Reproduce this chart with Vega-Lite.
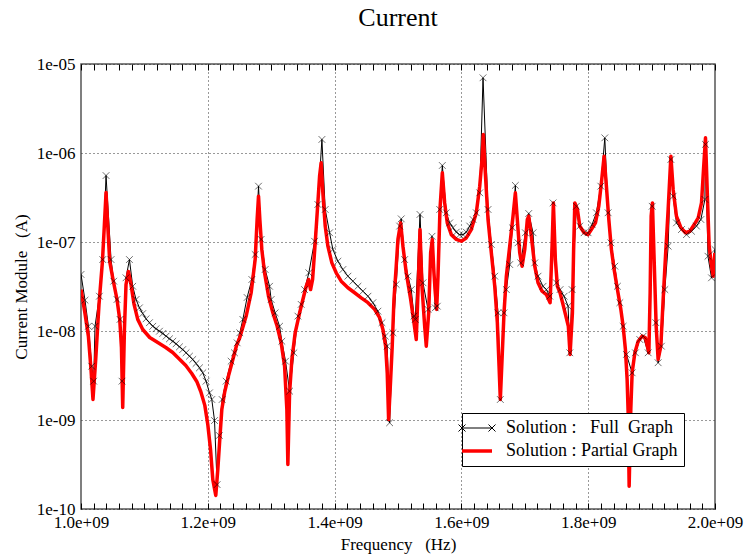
{
"$schema": "https://vega.github.io/schema/vega-lite/v6.json",
"width": 634, "height": 445,
"autosize": {"type": "none"},
"padding": {"left": 81, "top": 64, "right": 32, "bottom": 46},
"background": "white",
"title": {"text": "Current", "font": "Liberation Serif", "fontSize": 26, "fontWeight": "normal", "color": "black", "anchor": "middle", "frame": "group", "offset": 24},
"config": {"view": {"stroke": "#555", "strokeWidth": 1.5}, "font": "Liberation Serif"},
"datasets": {
"full": [
{"f":1.0000e9,"v":4.32e-8,"s":"Full"},{"f":1.0063e9,"v":2.22e-8,"s":"Full"},{"f":1.0117e9,"v":1.13e-8,"s":"Full"},{"f":1.0169e9,"v":4.02e-9,"s":"Full"},{"f":1.0200e9,"v":2.73e-9,"s":"Full"},{"f":1.0221e9,"v":1.13e-8,"s":"Full"},{"f":1.0290e9,"v":2.46e-8,"s":"Full"},{"f":1.0343e9,"v":6.35e-8,"s":"Full"},{"f":1.0395e9,"v":5.58e-7,"s":"Full"},{"f":1.0474e9,"v":6.35e-8,"s":"Full"},{"f":1.0516e9,"v":3.63e-8,"s":"Full"},{"f":1.0568e9,"v":2.26e-8,"s":"Full"},{"f":1.0616e9,"v":1.35e-8,"s":"Full"},{"f":1.0647e9,"v":2.73e-9,"s":"Full"},{"f":1.0710e9,"v":3.96e-8,"s":"Full"},{"f":1.0764e9,"v":6.35e-8,"s":"Full"},{"f":1.0816e9,"v":3.18e-8,"s":"Full"},{"f":1.0868e9,"v":2.26e-8,"s":"Full"},{"f":1.0922e9,"v":1.82e-8,"s":"Full"},{"f":1.0974e9,"v":1.57e-8,"s":"Full"},{"f":1.1026e9,"v":1.37e-8,"s":"Full"},{"f":1.1080e9,"v":1.24e-8,"s":"Full"},{"f":1.1132e9,"v":1.13e-8,"s":"Full"},{"f":1.1184e9,"v":1.06e-8,"s":"Full"},{"f":1.1238e9,"v":9.95e-9,"s":"Full"},{"f":1.1290e9,"v":9.38e-9,"s":"Full"},{"f":1.1342e9,"v":8.75e-9,"s":"Full"},{"f":1.1395e9,"v":8.17e-9,"s":"Full"},{"f":1.1448e9,"v":7.67e-9,"s":"Full"},{"f":1.1500e9,"v":7.18e-9,"s":"Full"},{"f":1.1553e9,"v":6.64e-9,"s":"Full"},{"f":1.1605e9,"v":6.19e-9,"s":"Full"},{"f":1.1657e9,"v":5.69e-9,"s":"Full"},{"f":1.1711e9,"v":5.21e-9,"s":"Full"},{"f":1.1763e9,"v":4.79e-9,"s":"Full"},{"f":1.1815e9,"v":4.32e-9,"s":"Full"},{"f":1.1869e9,"v":3.86e-9,"s":"Full"},{"f":1.1921e9,"v":3.39e-9,"s":"Full"},{"f":1.1973e9,"v":2.73e-9,"s":"Full"},{"f":1.2027e9,"v":2.02e-9,"s":"Full"},{"f":1.2063e9,"v":1.70e-9,"s":"Full"},{"f":1.2106e9,"v":9.86e-10,"s":"Full"},{"f":1.2147e9,"v":1.88e-10,"s":"Full"},{"f":1.2182e9,"v":6.70e-10,"s":"Full"},{"f":1.2226e9,"v":1.70e-9,"s":"Full"},{"f":1.2289e9,"v":2.73e-9,"s":"Full"},{"f":1.2368e9,"v":4.58e-9,"s":"Full"},{"f":1.2421e9,"v":5.69e-9,"s":"Full"},{"f":1.2463e9,"v":7.36e-9,"s":"Full"},{"f":1.2505e9,"v":9.55e-9,"s":"Full"},{"f":1.2553e9,"v":1.35e-8,"s":"Full"},{"f":1.2620e9,"v":2.38e-8,"s":"Full"},{"f":1.2695e9,"v":3.79e-8,"s":"Full"},{"f":1.2747e9,"v":7.24e-8,"s":"Full"},{"f":1.2800e9,"v":4.24e-7,"s":"Full"},{"f":1.2841e9,"v":1.07e-7,"s":"Full"},{"f":1.2905e9,"v":4.91e-8,"s":"Full"},{"f":1.2974e9,"v":3.18e-8,"s":"Full"},{"f":1.2999e9,"v":2.26e-8,"s":"Full"},{"f":1.3062e9,"v":1.60e-8,"s":"Full"},{"f":1.3132e9,"v":1.13e-8,"s":"Full"},{"f":1.3168e9,"v":7.67e-9,"s":"Full"},{"f":1.3226e9,"v":4.58e-9,"s":"Full"},{"f":1.3290e9,"v":2.11e-9,"s":"Full"},{"f":1.3358e9,"v":5.69e-9,"s":"Full"},{"f":1.3421e9,"v":1.47e-8,"s":"Full"},{"f":1.3473e9,"v":1.99e-8,"s":"Full"},{"f":1.3526e9,"v":2.92e-8,"s":"Full"},{"f":1.3594e9,"v":4.51e-8,"s":"Full"},{"f":1.3684e9,"v":1.02e-7,"s":"Full"},{"f":1.3736e9,"v":2.64e-7,"s":"Full"},{"f":1.3800e9,"v":1.42e-6,"s":"Full"},{"f":1.3852e9,"v":2.32e-7,"s":"Full"},{"f":1.3921e9,"v":1.27e-7,"s":"Full"},{"f":1.3973e9,"v":8.24e-8,"s":"Full"},{"f":1.4052e9,"v":6.08e-8,"s":"Full"},{"f":1.4131e9,"v":4.91e-8,"s":"Full"},{"f":1.4210e9,"v":4.13e-8,"s":"Full"},{"f":1.4289e9,"v":3.63e-8,"s":"Full"},{"f":1.4368e9,"v":3.18e-8,"s":"Full"},{"f":1.4447e9,"v":2.80e-8,"s":"Full"},{"f":1.4526e9,"v":2.46e-8,"s":"Full"},{"f":1.4604e9,"v":2.08e-8,"s":"Full"},{"f":1.4683e9,"v":1.67e-8,"s":"Full"},{"f":1.4747e9,"v":1.24e-8,"s":"Full"},{"f":1.4799e9,"v":8.75e-9,"s":"Full"},{"f":1.4830e9,"v":6.75e-9,"s":"Full"},{"f":1.4868e9,"v":9.31e-10,"s":"Full"},{"f":1.4920e9,"v":9.55e-9,"s":"Full"},{"f":1.4972e9,"v":3.33e-8,"s":"Full"},{"f":1.5026e9,"v":1.51e-7,"s":"Full"},{"f":1.5051e9,"v":1.82e-7,"s":"Full"},{"f":1.5105e9,"v":6.35e-8,"s":"Full"},{"f":1.5157e9,"v":4.13e-8,"s":"Full"},{"f":1.5209e9,"v":2.92e-8,"s":"Full"},{"f":1.5252e9,"v":1.47e-8,"s":"Full"},{"f":1.5272e9,"v":1.35e-8,"s":"Full"},{"f":1.5347e9,"v":2.04e-7,"s":"Full"},{"f":1.5394e9,"v":3.48e-8,"s":"Full"},{"f":1.5473e9,"v":1.75e-8,"s":"Full"},{"f":1.5536e9,"v":1.16e-7,"s":"Full"},{"f":1.5588e9,"v":1.82e-8,"s":"Full"},{"f":1.5620e9,"v":1.90e-8,"s":"Full"},{"f":1.5658e9,"v":2.32e-7,"s":"Full"},{"f":1.5699e9,"v":7.24e-7,"s":"Full"},{"f":1.5762e9,"v":2.13e-7,"s":"Full"},{"f":1.5815e9,"v":1.64e-7,"s":"Full"},{"f":1.5867e9,"v":1.45e-7,"s":"Full"},{"f":1.5919e9,"v":1.29e-7,"s":"Full"},{"f":1.5973e9,"v":1.21e-7,"s":"Full"},{"f":1.6025e9,"v":1.21e-7,"s":"Full"},{"f":1.6077e9,"v":1.29e-7,"s":"Full"},{"f":1.6131e9,"v":1.51e-7,"s":"Full"},{"f":1.6183e9,"v":1.79e-7,"s":"Full"},{"f":1.6235e9,"v":2.13e-7,"s":"Full"},{"f":1.6289e9,"v":3.57e-7,"s":"Full"},{"f":1.6341e9,"v":7.0e-6,"s":"Full"},{"f":1.6420e9,"v":2.32e-7,"s":"Full"},{"f":1.6472e9,"v":9.38e-8,"s":"Full"},{"f":1.6526e9,"v":4.13e-8,"s":"Full"},{"f":1.6578e9,"v":1.60e-8,"s":"Full"},{"f":1.6614e9,"v":1.70e-9,"s":"Full"},{"f":1.6672e9,"v":1.60e-8,"s":"Full"},{"f":1.6709e9,"v":2.92e-8,"s":"Full"},{"f":1.6762e9,"v":5.58e-8,"s":"Full"},{"f":1.6803e9,"v":1.45e-7,"s":"Full"},{"f":1.6851e9,"v":4.32e-7,"s":"Full"},{"f":1.6893e9,"v":9.79e-8,"s":"Full"},{"f":1.6936e9,"v":5.83e-8,"s":"Full"},{"f":1.7009e9,"v":1.27e-7,"s":"Full"},{"f":1.7062e9,"v":2.09e-7,"s":"Full"},{"f":1.7130e9,"v":1.27e-7,"s":"Full"},{"f":1.7157e9,"v":5.83e-8,"s":"Full"},{"f":1.7209e9,"v":4.13e-8,"s":"Full"},{"f":1.7288e9,"v":3.18e-8,"s":"Full"},{"f":1.7340e9,"v":2.92e-8,"s":"Full"},{"f":1.7394e9,"v":2.46e-8,"s":"Full"},{"f":1.7446e9,"v":2.75e-7,"s":"Full"},{"f":1.7498e9,"v":3.48e-8,"s":"Full"},{"f":1.7556e9,"v":2.92e-8,"s":"Full"},{"f":1.7620e9,"v":2.46e-8,"s":"Full"},{"f":1.7683e9,"v":1.90e-8,"s":"Full"},{"f":1.7710e9,"v":5.69e-9,"s":"Full"},{"f":1.7746e9,"v":2.92e-8,"s":"Full"},{"f":1.7814e9,"v":2.52e-7,"s":"Full"},{"f":1.7867e9,"v":1.51e-7,"s":"Full"},{"f":1.7935e9,"v":1.27e-7,"s":"Full"},{"f":1.7998e9,"v":1.27e-7,"s":"Full"},{"f":1.8061e9,"v":1.57e-7,"s":"Full"},{"f":1.8129e9,"v":2.13e-7,"s":"Full"},{"f":1.8199e9,"v":4.24e-7,"s":"Full"},{"f":1.8262e9,"v":1.48e-6,"s":"Full"},{"f":1.8314e9,"v":2.13e-7,"s":"Full"},{"f":1.8357e9,"v":9.79e-8,"s":"Full"},{"f":1.8420e9,"v":5.35e-8,"s":"Full"},{"f":1.8461e9,"v":3.18e-8,"s":"Full"},{"f":1.8499e9,"v":2.08e-8,"s":"Full"},{"f":1.8551e9,"v":1.13e-8,"s":"Full"},{"f":1.8603e9,"v":5.45e-9,"s":"Full"},{"f":1.8693e9,"v":3.39e-9,"s":"Full"},{"f":1.8745e9,"v":5.69e-9,"s":"Full"},{"f":1.8814e9,"v":8.02e-9,"s":"Full"},{"f":1.8867e9,"v":8.75e-9,"s":"Full"},{"f":1.8946e9,"v":5.69e-9,"s":"Full"},{"f":1.9009e9,"v":2.52e-7,"s":"Full"},{"f":1.9067e9,"v":1.24e-8,"s":"Full"},{"f":1.9103e9,"v":4.40e-9,"s":"Full"},{"f":1.9155e9,"v":6.75e-9,"s":"Full"},{"f":1.9209e9,"v":2.92e-8,"s":"Full"},{"f":1.9261e9,"v":8.97e-8,"s":"Full"},{"f":1.9304e9,"v":8.45e-7,"s":"Full"},{"f":1.9340e9,"v":3.27e-7,"s":"Full"},{"f":1.9392e9,"v":1.64e-7,"s":"Full"},{"f":1.9471e9,"v":1.38e-7,"s":"Full"},{"f":1.9550e9,"v":1.21e-7,"s":"Full"},{"f":1.9629e9,"v":1.32e-7,"s":"Full"},{"f":1.9708e9,"v":1.51e-7,"s":"Full"},{"f":1.9777e9,"v":1.79e-7,"s":"Full"},{"f":1.9841e9,"v":3.01e-7,"s":"Full"},{"f":1.9850e9,"v":1.25e-6,"s":"Full"},{"f":1.9889e9,"v":6.92e-8,"s":"Full"},{"f":1.9945e9,"v":3.96e-8,"s":"Full"},{"f":2.0000e9,"v":8.24e-8,"s":"Full"}
],
"partial": [
{"f":1.0000e9,"v":2.92e-8,"s":"Partial"},{"f":1.0058e9,"v":1.66e-8,"s":"Partial"},{"f":1.0117e9,"v":8.67e-9,"s":"Partial"},{"f":1.0158e9,"v":3.69e-9,"s":"Partial"},{"f":1.0189e9,"v":1.70e-9,"s":"Partial"},{"f":1.0232e9,"v":4.79e-9,"s":"Partial"},{"f":1.0284e9,"v":1.99e-8,"s":"Partial"},{"f":1.0338e9,"v":6.04e-8,"s":"Partial"},{"f":1.0369e9,"v":1.57e-7,"s":"Partial"},{"f":1.0395e9,"v":3.60e-7,"s":"Partial"},{"f":1.0421e9,"v":1.57e-7,"s":"Partial"},{"f":1.0453e9,"v":6.04e-8,"s":"Partial"},{"f":1.0505e9,"v":3.79e-8,"s":"Partial"},{"f":1.0568e9,"v":2.26e-8,"s":"Partial"},{"f":1.0611e9,"v":1.35e-8,"s":"Partial"},{"f":1.0638e9,"v":6.53e-9,"s":"Partial"},{"f":1.0658e9,"v":1.38e-9,"s":"Partial"},{"f":1.0685e9,"v":1.04e-8,"s":"Partial"},{"f":1.0710e9,"v":3.33e-8,"s":"Partial"},{"f":1.0748e9,"v":4.67e-8,"s":"Partial"},{"f":1.0789e9,"v":3.33e-8,"s":"Partial"},{"f":1.0837e9,"v":1.99e-8,"s":"Partial"},{"f":1.0895e9,"v":1.35e-8,"s":"Partial"},{"f":1.0974e9,"v":1.04e-8,"s":"Partial"},{"f":1.1084e9,"v":8.45e-9,"s":"Partial"},{"f":1.1211e9,"v":7.43e-9,"s":"Partial"},{"f":1.1337e9,"v":6.53e-9,"s":"Partial"},{"f":1.1447e9,"v":5.73e-9,"s":"Partial"},{"f":1.1558e9,"v":4.79e-9,"s":"Partial"},{"f":1.1653e9,"v":4.09e-9,"s":"Partial"},{"f":1.1747e9,"v":3.33e-9,"s":"Partial"},{"f":1.1826e9,"v":2.71e-9,"s":"Partial"},{"f":1.1889e9,"v":2.09e-9,"s":"Partial"},{"f":1.1953e9,"v":1.46e-9,"s":"Partial"},{"f":1.2000e9,"v":8.89e-10,"s":"Partial"},{"f":1.2043e9,"v":4.67e-10,"s":"Partial"},{"f":1.2079e9,"v":2.14e-10,"s":"Partial"},{"f":1.2126e9,"v":1.42e-10,"s":"Partial"},{"f":1.2158e9,"v":2.78e-10,"s":"Partial"},{"f":1.2189e9,"v":6.04e-10,"s":"Partial"},{"f":1.2221e9,"v":1.31e-9,"s":"Partial"},{"f":1.2268e9,"v":2.09e-9,"s":"Partial"},{"f":1.2332e9,"v":3.25e-9,"s":"Partial"},{"f":1.2395e9,"v":4.79e-9,"s":"Partial"},{"f":1.2453e9,"v":6.87e-9,"s":"Partial"},{"f":1.2505e9,"v":8.45e-9,"s":"Partial"},{"f":1.2605e9,"v":1.47e-8,"s":"Partial"},{"f":1.2684e9,"v":2.69e-8,"s":"Partial"},{"f":1.2747e9,"v":6.35e-8,"s":"Partial"},{"f":1.2778e9,"v":1.79e-7,"s":"Partial"},{"f":1.2800e9,"v":3.27e-7,"s":"Partial"},{"f":1.2821e9,"v":1.79e-7,"s":"Partial"},{"f":1.2852e9,"v":8.24e-8,"s":"Partial"},{"f":1.2895e9,"v":4.51e-8,"s":"Partial"},{"f":1.2958e9,"v":2.46e-8,"s":"Partial"},{"f":1.3026e9,"v":1.60e-8,"s":"Partial"},{"f":1.3094e9,"v":1.13e-8,"s":"Partial"},{"f":1.3157e9,"v":7.36e-9,"s":"Partial"},{"f":1.3211e9,"v":4.02e-9,"s":"Partial"},{"f":1.3247e9,"v":1.31e-9,"s":"Partial"},{"f":1.3263e9,"v":3.16e-10,"s":"Partial"},{"f":1.3290e9,"v":2.02e-9,"s":"Partial"},{"f":1.3326e9,"v":4.79e-9,"s":"Partial"},{"f":1.3378e9,"v":9.55e-9,"s":"Partial"},{"f":1.3448e9,"v":1.60e-8,"s":"Partial"},{"f":1.3500e9,"v":2.26e-8,"s":"Partial"},{"f":1.3552e9,"v":3.18e-8,"s":"Partial"},{"f":1.3590e9,"v":3.79e-8,"s":"Partial"},{"f":1.3621e9,"v":2.92e-8,"s":"Partial"},{"f":1.3653e9,"v":3.79e-8,"s":"Partial"},{"f":1.3694e9,"v":9.79e-8,"s":"Partial"},{"f":1.3736e9,"v":2.75e-7,"s":"Partial"},{"f":1.3763e9,"v":5.48e-7,"s":"Partial"},{"f":1.3788e9,"v":7.76e-7,"s":"Partial"},{"f":1.3815e9,"v":3.57e-7,"s":"Partial"},{"f":1.3852e9,"v":1.51e-7,"s":"Partial"},{"f":1.3894e9,"v":8.97e-8,"s":"Partial"},{"f":1.3957e9,"v":5.83e-8,"s":"Partial"},{"f":1.4025e9,"v":4.51e-8,"s":"Partial"},{"f":1.4104e9,"v":3.63e-8,"s":"Partial"},{"f":1.4210e9,"v":3.06e-8,"s":"Partial"},{"f":1.4316e9,"v":2.69e-8,"s":"Partial"},{"f":1.4420e9,"v":2.36e-8,"s":"Partial"},{"f":1.4526e9,"v":2.08e-8,"s":"Partial"},{"f":1.4631e9,"v":1.75e-8,"s":"Partial"},{"f":1.4710e9,"v":1.41e-8,"s":"Partial"},{"f":1.4762e9,"v":1.04e-8,"s":"Partial"},{"f":1.4805e9,"v":6.75e-9,"s":"Partial"},{"f":1.4830e9,"v":3.39e-9,"s":"Partial"},{"f":1.4852e9,"v":1.01e-9,"s":"Partial"},{"f":1.4884e9,"v":2.85e-9,"s":"Partial"},{"f":1.4909e9,"v":6.75e-9,"s":"Partial"},{"f":1.4936e9,"v":2.26e-8,"s":"Partial"},{"f":1.4972e9,"v":5.35e-8,"s":"Partial"},{"f":1.4999e9,"v":1.07e-7,"s":"Partial"},{"f":1.5042e9,"v":1.64e-7,"s":"Partial"},{"f":1.5078e9,"v":8.97e-8,"s":"Partial"},{"f":1.5130e9,"v":4.51e-8,"s":"Partial"},{"f":1.5200e9,"v":2.26e-8,"s":"Partial"},{"f":1.5252e9,"v":1.24e-8,"s":"Partial"},{"f":1.5288e9,"v":8.02e-9,"s":"Partial"},{"f":1.5315e9,"v":2.69e-8,"s":"Partial"},{"f":1.5347e9,"v":1.38e-7,"s":"Partial"},{"f":1.5378e9,"v":3.18e-8,"s":"Partial"},{"f":1.5421e9,"v":1.13e-8,"s":"Partial"},{"f":1.5446e9,"v":6.75e-9,"s":"Partial"},{"f":1.5484e9,"v":1.60e-8,"s":"Partial"},{"f":1.5515e9,"v":7.57e-8,"s":"Partial"},{"f":1.5541e9,"v":1.07e-7,"s":"Partial"},{"f":1.5567e9,"v":4.51e-8,"s":"Partial"},{"f":1.5588e9,"v":2.69e-8,"s":"Partial"},{"f":1.5610e9,"v":1.75e-8,"s":"Partial"},{"f":1.5631e9,"v":4.13e-8,"s":"Partial"},{"f":1.5662e9,"v":2.32e-7,"s":"Partial"},{"f":1.5699e9,"v":6.0e-7,"s":"Partial"},{"f":1.5736e9,"v":2.75e-7,"s":"Partial"},{"f":1.5777e9,"v":1.64e-7,"s":"Partial"},{"f":1.5841e9,"v":1.21e-7,"s":"Partial"},{"f":1.5920e9,"v":1.07e-7,"s":"Partial"},{"f":1.5998e9,"v":1.02e-7,"s":"Partial"},{"f":1.6077e9,"v":1.11e-7,"s":"Partial"},{"f":1.6156e9,"v":1.38e-7,"s":"Partial"},{"f":1.6235e9,"v":2.13e-7,"s":"Partial"},{"f":1.6289e9,"v":4.24e-7,"s":"Partial"},{"f":1.6325e9,"v":8.45e-7,"s":"Partial"},{"f":1.6346e9,"v":1.61e-6,"s":"Partial"},{"f":1.6377e9,"v":6.0e-7,"s":"Partial"},{"f":1.6420e9,"v":1.79e-7,"s":"Partial"},{"f":1.6472e9,"v":7.57e-8,"s":"Partial"},{"f":1.6526e9,"v":3.18e-8,"s":"Partial"},{"f":1.6567e9,"v":1.24e-8,"s":"Partial"},{"f":1.6594e9,"v":4.02e-9,"s":"Partial"},{"f":1.6614e9,"v":1.70e-9,"s":"Partial"},{"f":1.6641e9,"v":4.79e-9,"s":"Partial"},{"f":1.6672e9,"v":1.60e-8,"s":"Partial"},{"f":1.6709e9,"v":4.13e-8,"s":"Partial"},{"f":1.6762e9,"v":8.97e-8,"s":"Partial"},{"f":1.6814e9,"v":1.95e-7,"s":"Partial"},{"f":1.6851e9,"v":3.57e-7,"s":"Partial"},{"f":1.6882e9,"v":1.79e-7,"s":"Partial"},{"f":1.6920e9,"v":7.57e-8,"s":"Partial"},{"f":1.6957e9,"v":5.35e-8,"s":"Partial"},{"f":1.6999e9,"v":8.24e-8,"s":"Partial"},{"f":1.7040e9,"v":1.79e-7,"s":"Partial"},{"f":1.7062e9,"v":1.95e-7,"s":"Partial"},{"f":1.7103e9,"v":1.16e-7,"s":"Partial"},{"f":1.7157e9,"v":5.35e-8,"s":"Partial"},{"f":1.7209e9,"v":3.48e-8,"s":"Partial"},{"f":1.7272e9,"v":2.80e-8,"s":"Partial"},{"f":1.7340e9,"v":2.57e-8,"s":"Partial"},{"f":1.7399e9,"v":2.08e-8,"s":"Partial"},{"f":1.7430e9,"v":8.97e-8,"s":"Partial"},{"f":1.7451e9,"v":2.75e-7,"s":"Partial"},{"f":1.7482e9,"v":6.35e-8,"s":"Partial"},{"f":1.7514e9,"v":3.18e-8,"s":"Partial"},{"f":1.7556e9,"v":2.69e-8,"s":"Partial"},{"f":1.7609e9,"v":1.90e-8,"s":"Partial"},{"f":1.7687e9,"v":1.13e-8,"s":"Partial"},{"f":1.7714e9,"v":5.45e-9,"s":"Partial"},{"f":1.7751e9,"v":1.60e-8,"s":"Partial"},{"f":1.7770e9,"v":8.24e-8,"s":"Partial"},{"f":1.7789e9,"v":2.75e-7,"s":"Partial"},{"f":1.7830e9,"v":2.32e-7,"s":"Partial"},{"f":1.7867e9,"v":1.51e-7,"s":"Partial"},{"f":1.7935e9,"v":1.27e-7,"s":"Partial"},{"f":1.7998e9,"v":1.21e-7,"s":"Partial"},{"f":1.8050e9,"v":1.38e-7,"s":"Partial"},{"f":1.8114e9,"v":1.64e-7,"s":"Partial"},{"f":1.8167e9,"v":2.52e-7,"s":"Partial"},{"f":1.8208e9,"v":4.62e-7,"s":"Partial"},{"f":1.8251e9,"v":9.20e-7,"s":"Partial"},{"f":1.8287e9,"v":4.24e-7,"s":"Partial"},{"f":1.8325e9,"v":1.79e-7,"s":"Partial"},{"f":1.8366e9,"v":8.24e-8,"s":"Partial"},{"f":1.8409e9,"v":4.91e-8,"s":"Partial"},{"f":1.8461e9,"v":2.92e-8,"s":"Partial"},{"f":1.8515e9,"v":1.75e-8,"s":"Partial"},{"f":1.8551e9,"v":1.13e-8,"s":"Partial"},{"f":1.8587e9,"v":6.19e-9,"s":"Partial"},{"f":1.8614e9,"v":2.85e-9,"s":"Partial"},{"f":1.8630e9,"v":1.21e-9,"s":"Partial"},{"f":1.8646e9,"v":1.80e-10,"s":"Partial"},{"f":1.8672e9,"v":1.31e-9,"s":"Partial"},{"f":1.8693e9,"v":3.39e-9,"s":"Partial"},{"f":1.8736e9,"v":5.69e-9,"s":"Partial"},{"f":1.8788e9,"v":7.67e-9,"s":"Partial"},{"f":1.8851e9,"v":8.75e-9,"s":"Partial"},{"f":1.8903e9,"v":8.39e-9,"s":"Partial"},{"f":1.8957e9,"v":5.69e-9,"s":"Partial"},{"f":1.8977e9,"v":2.69e-8,"s":"Partial"},{"f":1.8993e9,"v":1.95e-7,"s":"Partial"},{"f":1.9013e9,"v":2.75e-7,"s":"Partial"},{"f":1.9040e9,"v":6.35e-8,"s":"Partial"},{"f":1.9072e9,"v":1.13e-8,"s":"Partial"},{"f":1.9103e9,"v":4.79e-9,"s":"Partial"},{"f":1.9146e9,"v":6.75e-9,"s":"Partial"},{"f":1.9182e9,"v":2.26e-8,"s":"Partial"},{"f":1.9219e9,"v":6.92e-8,"s":"Partial"},{"f":1.9261e9,"v":2.32e-7,"s":"Partial"},{"f":1.9304e9,"v":9.20e-7,"s":"Partial"},{"f":1.9340e9,"v":3.89e-7,"s":"Partial"},{"f":1.9392e9,"v":1.95e-7,"s":"Partial"},{"f":1.9462e9,"v":1.45e-7,"s":"Partial"},{"f":1.9534e9,"v":1.27e-7,"s":"Partial"},{"f":1.9604e9,"v":1.32e-7,"s":"Partial"},{"f":1.9672e9,"v":1.57e-7,"s":"Partial"},{"f":1.9735e9,"v":1.87e-7,"s":"Partial"},{"f":1.9787e9,"v":2.75e-7,"s":"Partial"},{"f":1.9819e9,"v":6.53e-7,"s":"Partial"},{"f":1.9850e9,"v":1.48e-6,"s":"Partial"},{"f":1.9882e9,"v":3.01e-7,"s":"Partial"},{"f":1.9908e9,"v":8.97e-8,"s":"Partial"},{"f":1.9945e9,"v":5.35e-8,"s":"Partial"},{"f":1.9972e9,"v":4.13e-8,"s":"Partial"},{"f":1.9998e9,"v":7.57e-8,"s":"Partial"}
]
},
"layer": [
{
"data": {"name": "full"},
"mark": {"type": "line", "strokeWidth": 1, "clip": true},
"encoding": {
"x": {"field": "f", "type": "quantitative", "scale": {"domain": [1e9, 2e9], "nice": false, "zero": false},
"axis": {"orient": "bottom", "offset": -6, "zindex": 2, "values": [1.0e9,1.02e9,1.04e9,1.06e9,1.08e9,1.1e9,1.12e9,1.14e9,1.16e9,1.18e9,1.2e9,1.22e9,1.24e9,1.26e9,1.28e9,1.3e9,1.32e9,1.34e9,1.36e9,1.38e9,1.4e9,1.42e9,1.44e9,1.46e9,1.48e9,1.5e9,1.52e9,1.54e9,1.56e9,1.58e9,1.6e9,1.62e9,1.64e9,1.66e9,1.68e9,1.7e9,1.72e9,1.74e9,1.76e9,1.78e9,1.8e9,1.82e9,1.84e9,1.86e9,1.88e9,1.9e9,1.92e9,1.94e9,1.96e9,1.98e9,2.0e9],
"labelExpr": "datum.value % 200000000 === 0 ? format(datum.value/1e9, '.1f') + 'e+09' : ''",
"grid": false,
"ticks": true, "tickSize": 6, "tickColor": "black", "tickWidth": 1, "tickOpacity": 1, "domain": false,
"labelFont": "Liberation Serif", "labelFontSize": 17, "labelColor": "black", "labelPadding": 5, "labelFlush": false, "labelOverlap": false,
"title": "Frequency\u00a0\u00a0 (Hz)", "titleFont": "Liberation Serif", "titleFontSize": 17, "titleFontWeight": "normal", "titleColor": "black", "titlePadding": 6}},
"y": {"field": "v", "type": "quantitative", "scale": {"type": "log", "domain": [1e-10, 1e-5], "nice": false},
"axis": {"values": [1e-10, 1e-9, 1e-8, 1e-7, 1e-6, 1e-5],
"labelExpr": "datum.value < 5e-10 ? '1e-10' : replace(format(datum.value, '.0e'), 'e-', 'e-0')",
"ticks": false, "grid": true, "gridDash": [1, 3], "gridColor": "#333", "gridWidth": 1, "domain": false,
"labelFont": "Liberation Serif", "labelFontSize": 17, "labelColor": "black", "labelPadding": 6,
"title": "Current Module\u00a0\u00a0 (A)", "titleFont": "Liberation Serif", "titleFontSize": 17, "titleFontWeight": "normal", "titleColor": "black", "titlePadding": 6}},
"color": {"field": "s", "type": "nominal", "scale": {"domain": ["Full", "Partial"], "range": ["black", "#ff0000"]},
"legend": {"title": null, "orient": "none", "legendX": 381, "legendY": 349, "strokeColor": "black", "fillColor": "white", "padding": 6, "rowPadding": 5, "symbolSize": 400, "symbolType": "stroke",
"labelFont": "Liberation Serif", "labelFontSize": 18, "labelColor": "black", "labelOffset": 20, "labelLimit": 400,
"labelExpr": "datum.label === 'Full' ? 'Solution :\u00a0\u00a0 Full\u00a0 Graph' : 'Solution : Partial Graph'",
"encode": {"symbols": {"update": {"shape": {"signal": "datum.value === 'Full' ? 'M-1.5,0L1.5,0M-1.85,-0.35L-1.15,0.35M-1.85,0.35L-1.15,-0.35M1.15,-0.35L1.85,0.35M1.15,0.35L1.85,-0.35' : 'M-1.5,0L1.5,0'"}, "strokeWidth": {"signal": "datum.value === 'Full' ? 1 : 3.5"}, "fill": {"value": "transparent"}}}}}}
}
},
{
"data": {"name": "partial"},
"mark": {"type": "line", "strokeWidth": 3.5, "strokeJoin": "round", "clip": true},
"encoding": {
"x": {"field": "f", "type": "quantitative", "scale": {"domain": [1e9, 2e9], "nice": false, "zero": false},
"axis": {"orient": "top", "offset": -6, "zindex": 2, "values": [1.0e9,1.02e9,1.04e9,1.06e9,1.08e9,1.1e9,1.12e9,1.14e9,1.16e9,1.18e9,1.2e9,1.22e9,1.24e9,1.26e9,1.28e9,1.3e9,1.32e9,1.34e9,1.36e9,1.38e9,1.4e9,1.42e9,1.44e9,1.46e9,1.48e9,1.5e9,1.52e9,1.54e9,1.56e9,1.58e9,1.6e9,1.62e9,1.64e9,1.66e9,1.68e9,1.7e9,1.72e9,1.74e9,1.76e9,1.78e9,1.8e9,1.82e9,1.84e9,1.86e9,1.88e9,1.9e9,1.92e9,1.94e9,1.96e9,1.98e9,2.0e9],
"labels": false, "grid": false, "domain": false, "ticks": true, "tickSize": 6, "tickColor": "black", "tickWidth": 1, "tickOpacity": 1, "title": null}},
"y": {"field": "v", "type": "quantitative"},
"color": {"field": "s", "type": "nominal"}
}
},
{
"data": {"name": "full"},
"mark": {"type": "point", "shape": "M-1,-1L1,1M-1,1L1,-1", "filled": false, "size": 45, "strokeWidth": 0.8, "color": "black", "clip": true},
"encoding": {
"x": {"field": "f", "type": "quantitative", "scale": {"domain": [1e9, 2e9], "nice": false, "zero": false},
"axis": {"orient": "bottom", "values": [1.2e9, 1.4e9, 1.6e9, 1.8e9], "labels": false, "ticks": false, "domain": false, "title": null, "grid": true, "gridDash": [1, 3], "gridColor": "#333", "gridWidth": 1}},
"y": {"field": "v", "type": "quantitative"}
}
}
],
"resolve": {"axis": {"x": "independent"}}
}
